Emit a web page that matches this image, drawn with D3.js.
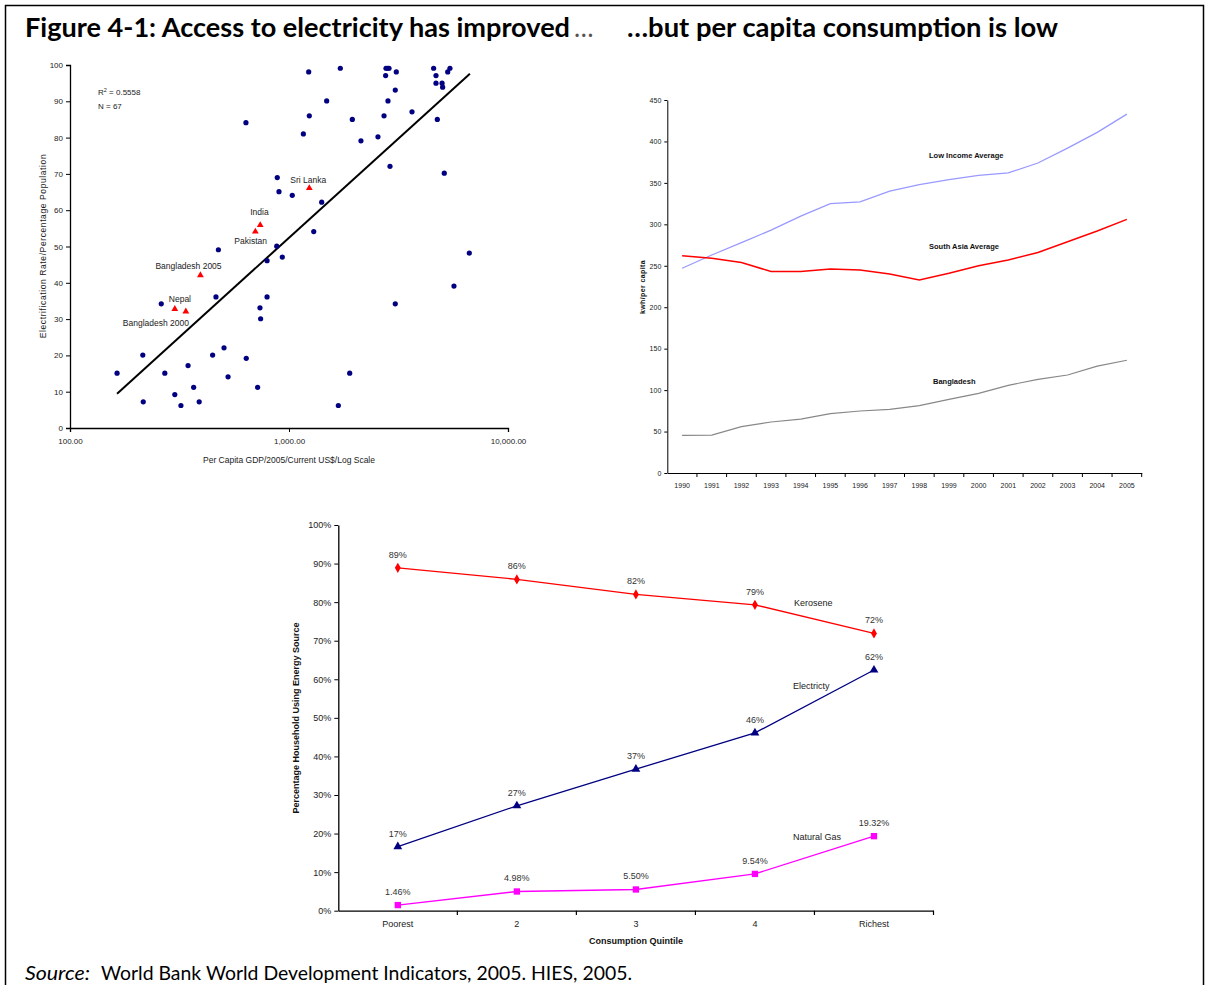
<!DOCTYPE html>
<html><head><meta charset="utf-8">
<script src="https://cdn.jsdelivr.net/npm/d3@7"></script>
<style>body{margin:0;background:#fff}svg{display:block}</style>
</head><body><svg id="c" width="1206" height="985"></svg>
<script>
// ---------- Panel 1: electrification vs GDP (log scale) ----------
const gdp  = [636,884,900,476,879,1230,1715,2773,2820,2862,3090,2762,4575,4690,5432,5306,4690,5000,5030,3057,1486,2831,1238,1946,2716,3645,4756,1163,2131,2548,2892,5117,1035,1410,1297,6657,261,464,932,794,794,737,742,164,215,216,271,346,301,367,321,389,448,505,527,638,719,5666,3057,1893,1680];
const elec = [84.1,69.0,65.1,49.1,50.1,98.1,99.1,99.1,99.1,99.1,98.1,97.1,99.1,97.1,99.1,98.1,95.0,95.0,93.9,93.1,90.1,90.1,86.0,85.0,86.0,87.1,85.0,81.0,79.1,80.2,72.1,70.2,64.1,62.2,54.1,48.2,34.2,36.1,47.1,46.1,36.1,33.1,30.1,15.1,20.1,7.2,15.1,17.2,9.2,11.2,6.2,7.2,20.1,22.1,14.1,19.2,11.2,39.1,34.2,15.1,6.2];
const hlNames = ["Sri Lanka","India","Pakistan","Bangladesh 2005","Nepal","Bangladesh 2000"];
const hlGdp   = [1238,739,702,394,301,338];
const hlElec  = [66.1,55.9,54.1,42.1,32.8,32.1];
const trendRange = [164,6700];
const trendSlope = 54.7, trendIntercept = -111.7;   // elec = a + b*log10(gdp)
const gdpTicks = [100,1000,10000];
const elecTicks = [0,10,20,30,40,50,60,70,80,90,100];

// ---------- Panel 2: kWh per capita ----------
const years = [1990,1991,1992,1993,1994,1995,1996,1997,1998,1999,2000,2001,2002,2003,2004,2005];
const lowIncome  = [247,263,278,293,310,325,327,340,348,354,359,362,374,392,411,433];
const southAsia  = [262,259,254,243,243,246,245,240,233,241,250,257,266,279,292,306];
const bangladesh = [45.5,45.8,55.9,61.5,65,71.6,74.8,76.8,81.2,88.9,96.1,105.8,113,118.2,129,136];
const kwhTicks = [0,50,100,150,200,250,300,350,400,450];

// ---------- Panel 3: household energy source by quintile ----------
const quintiles   = ["Poorest","2","3","4","Richest"];
const kerosene    = [0.889,0.859,0.820,0.793,0.719];
const electricity = [0.166,0.272,0.367,0.461,0.624];
const naturalGas  = [0.0146,0.0498,0.0550,0.0954,0.1932];
const pctTicks = [0,0.1,0.2,0.3,0.4,0.5,0.6,0.7,0.8,0.9,1.0];

const svg = d3.select("#c");
const F = "'Liberation Sans', Arial, sans-serif";
const HF = "Lato, 'Open Sans', sans-serif";

// page frame
svg.append("path").attr("d","M5.5,985 V5.5 H1203.5 V985").attr("fill","none").attr("stroke","#000").attr("stroke-width",1.5);

// headings
const head = svg.append("g").attr("font-family",HF).attr("font-weight",700).attr("font-size",26).attr("fill","#000");
head.append("text").attr("x",25).attr("y",37).attr("textLength",545).attr("lengthAdjust","spacingAndGlyphs")
  .text("Figure 4-1: Access to electricity has improved");
head.append("text").attr("x",574).attr("y",37).attr("font-weight",400).attr("fill","#555").text("…");
head.append("text").attr("x",627).attr("y",37).attr("textLength",431).attr("lengthAdjust","spacingAndGlyphs")
  .text("…but per capita consumption is low");

const src = svg.append("text").attr("y",980).attr("font-family",HF).attr("font-size",19).attr("fill","#000");
src.append("tspan").attr("x",25).attr("font-style","italic").attr("textLength",65).attr("lengthAdjust","spacingAndGlyphs").text("Source:");
src.append("tspan").attr("x",101).attr("textLength",531).attr("lengthAdjust","spacingAndGlyphs")
  .text("World Bank World Development Indicators, 2005. HIES, 2005.");

function styleAxis(g, fs){
  g.selectAll("path,line").attr("stroke","#000");
  g.selectAll("text").attr("font-family",F).attr("font-size",fs).attr("fill","#222");
}

// ===== Panel 1 =====
{
  const x = d3.scaleLog().domain([100,10000]).range([70,508]);
  const y = d3.scaleLinear().domain([0,100]).range([428,65]);
  const g = svg.append("g");
  const ax = g.append("g").attr("transform","translate(0,428)")
    .call(d3.axisBottom(x).tickValues(gdpTicks).tickFormat(d3.format(",.2f")).tickSizeOuter(0).tickSize(4).tickPadding(6));
  const ay = g.append("g").attr("transform","translate(70,0)")
    .call(d3.axisLeft(y).tickValues(elecTicks).tickSizeOuter(0).tickSize(4).tickPadding(3));
  styleAxis(ax,8); styleAxis(ay,8);
  ax.select(".domain").attr("stroke-width",1.3); ay.select(".domain").attr("stroke-width",1.3);

  g.append("text").attr("transform","translate(46,246) rotate(-90)").attr("text-anchor","middle")
    .attr("font-family",F).attr("font-size",8.5).attr("letter-spacing",0.6).attr("fill","#222")
    .text("Electrification Rate/Percentage Population");
  g.append("text").attr("x",289).attr("y",463).attr("text-anchor","middle")
    .attr("font-family",F).attr("font-size",8.5).attr("fill","#222").text("Per Capita GDP/2005/Current US$/Log Scale");

  // fitted line
  const fit = v => trendIntercept + trendSlope*Math.log10(v);
  g.append("line").attr("x1",x(trendRange[0])).attr("y1",y(fit(trendRange[0])))
    .attr("x2",x(trendRange[1])).attr("y2",y(fit(trendRange[1])))
    .attr("stroke","#000").attr("stroke-width",2);

  g.selectAll("circle.pt").data(gdp).join("circle").attr("class","pt")
    .attr("cx",d=>x(d)).attr("cy",(d,i)=>y(elec[i])).attr("r",2.6).attr("fill","#000080");

  g.selectAll("path.hl").data(hlGdp).join("path").attr("class","hl")
    .attr("d",d3.symbol(d3.symbolTriangle,20)).attr("fill","#ff0000")
    .attr("transform",(d,i)=>`translate(${x(d)},${y(hlElec[i])})`);

  // country labels
  const lblOff = [[-19,-5],[-10,-10],[-21,12],[-45,-6],[-6,-7],[-63,15]];
  g.selectAll("text.hlt").data(hlNames).join("text").attr("class","hlt")
    .attr("x",(d,i)=>x(hlGdp[i])+lblOff[i][0]).attr("y",(d,i)=>y(hlElec[i])+lblOff[i][1])
    .attr("font-family",F).attr("font-size",8.5).attr("fill","#222").text(d=>d);

  const r2 = g.append("text").attr("x",98).attr("y",95).attr("font-family",F).attr("font-size",8).attr("fill","#222");
  r2.append("tspan").text("R");
  r2.append("tspan").attr("dy",-3).attr("font-size",5.5).text("2");
  r2.append("tspan").attr("dy",3).text(" = 0.5558");
  g.append("text").attr("x",98).attr("y",109).attr("font-family",F).attr("font-size",8).attr("fill","#222").text("N = 67");
}

// ===== Panel 2 =====
{
  const x = d3.scaleBand().domain(years).range([667.3,1141.7]);
  const y = d3.scaleLinear().domain([0,450]).range([473,100]);
  const cx = d => x(d)+x.bandwidth()/2;
  const g = svg.append("g");
  const ax = g.append("g").attr("transform","translate(0,473)")
    .call(d3.axisBottom(x).tickSize(0).tickPadding(10).tickSizeOuter(0));
  ax.selectAll(".tick").attr("transform",d=>`translate(${cx(d)},0)`);
  styleAxis(ax,7);
  // tick marks on the band boundaries
  g.append("g").selectAll("line").data(years).join("line")
    .attr("x1",d=>x(d)+x.bandwidth()).attr("x2",d=>x(d)+x.bandwidth())
    .attr("y1",473).attr("y2",477).attr("stroke","#000");
  const ay = g.append("g").attr("transform","translate(667.3,0)")
    .call(d3.axisLeft(y).tickValues(kwhTicks).tickSize(3).tickPadding(3).tickSizeOuter(0));
  styleAxis(ay,7);

  g.append("text").attr("transform","translate(645,287) rotate(-90)").attr("text-anchor","middle")
    .attr("font-family",F).attr("font-size",7).attr("font-weight",700).attr("letter-spacing",0.4).attr("fill","#111").text("kwh/per capita");

  const line = d3.line().x((d,i)=>cx(years[i])).y(d=>y(d));
  g.append("path").datum(lowIncome).attr("d",line).attr("fill","none").attr("stroke","#9999ff").attr("stroke-width",1.3);
  g.append("path").datum(southAsia).attr("d",line).attr("fill","none").attr("stroke","#ff0000").attr("stroke-width",1.5);
  g.append("path").datum(bangladesh).attr("d",line).attr("fill","none").attr("stroke","#888").attr("stroke-width",1.2);

  const lab = [["Low Income Average",929,158],["South Asia Average",929,249],["Bangladesh",933,384]];
  g.selectAll("text.sl").data(lab).join("text").attr("class","sl")
    .attr("x",d=>d[1]).attr("y",d=>d[2]).attr("font-family",F).attr("font-size",7.5).attr("font-weight",700).attr("fill","#111").text(d=>d[0]);
}

// ===== Panel 3 =====
{
  const x = d3.scaleBand().domain(quintiles).range([338.3,933.5]);
  const y = d3.scaleLinear().domain([0,1]).range([910.7,525]);
  const cx = d => x(d)+x.bandwidth()/2;
  const g = svg.append("g");
  const ax = g.append("g").attr("transform","translate(0,910.7)")
    .call(d3.axisBottom(x).tickSize(0).tickPadding(10).tickSizeOuter(0));
  ax.selectAll(".tick").attr("transform",d=>`translate(${cx(d)},0)`);
  styleAxis(ax,9);
  ax.select(".domain").attr("stroke-width",1.3);
  g.append("g").selectAll("line").data(quintiles).join("line")
    .attr("x1",d=>x(d)+x.bandwidth()).attr("x2",d=>x(d)+x.bandwidth())
    .attr("y1",910.7).attr("y2",915).attr("stroke","#000").attr("stroke-width",1.2);
  const ay = g.append("g").attr("transform","translate(338.3,0)")
    .call(d3.axisLeft(y).tickValues(pctTicks).tickFormat(d3.format(".0%")).tickSize(4).tickPadding(3).tickSizeOuter(0));
  styleAxis(ay,9);
  ay.select(".domain").attr("stroke-width",1.3);

  g.append("text").attr("x",636).attr("y",944).attr("text-anchor","middle")
    .attr("font-family",F).attr("font-size",9).attr("font-weight",700).attr("fill","#111").text("Consumption Quintile");
  g.append("text").attr("transform","translate(299,718) rotate(-90)").attr("text-anchor","middle")
    .attr("font-family",F).attr("font-size",9).attr("font-weight",700).attr("fill","#111").text("Percentage Household Using Energy Source");

  const series = [
    {vals:kerosene, color:"#ff0000", sym:d3.symbolDiamond, size:30, fmt:d3.format(".0%"), name:"Kerosene", nx:794, ny:606},
    {vals:electricity, color:"#000080", sym:d3.symbolTriangle, size:34, fmt:d3.format(".0%"), name:"Electricty", nx:793, ny:689},
    {vals:naturalGas, color:"#ff00ff", sym:d3.symbolSquare, size:40, fmt:d3.format(".2%"), name:"Natural Gas", nx:793, ny:840}
  ];
  const line = d3.line().x((d,i)=>cx(quintiles[i])).y(d=>y(d));
  series.forEach(s=>{
    g.append("path").datum(s.vals).attr("d",line).attr("fill","none").attr("stroke",s.color).attr("stroke-width",1.3);
    g.selectAll(null).data(s.vals).join("path")
      .attr("d",d3.symbol(s.sym,s.size)).attr("fill",s.color)
      .attr("transform",(d,i)=>`translate(${cx(quintiles[i])},${y(d)})`);
    g.selectAll(null).data(s.vals).join("text")
      .attr("x",(d,i)=>cx(quintiles[i])).attr("y",d=>y(d)-10).attr("text-anchor","middle")
      .attr("font-family",F).attr("font-size",9).attr("fill","#333").text(d=>s.fmt(d));
    g.append("text").attr("x",s.nx).attr("y",s.ny).attr("font-family",F).attr("font-size",9).attr("fill","#222").text(s.name);
  });
}
</script></body></html>
